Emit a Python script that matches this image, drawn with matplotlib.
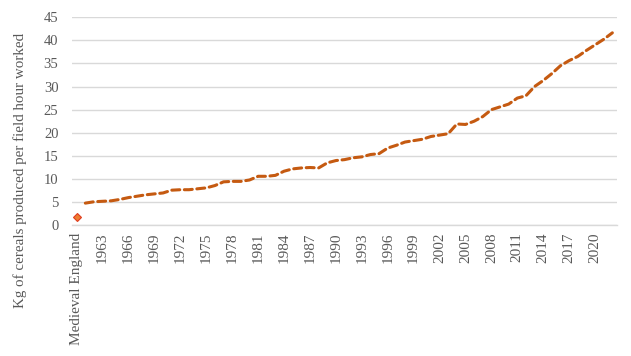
import numpy as np
import matplotlib.pyplot as plt

# categories: Medieval England + 1961..2022
years = list(range(1961, 2023))
categories = ['Medieval England'] + [str(y) for y in years]

medieval_value = 1.7

# kg of cereals per field hour worked
modern_values = [
    4.8, 5.1, 5.2, 5.3, 5.6, 6.0, 6.3, 6.6, 6.8, 7.0,      # 1961-1970
    7.6, 7.7, 7.7, 7.9, 8.1, 8.6, 9.4, 9.5, 9.5, 9.8,      # 1971-1980
    10.6, 10.6, 10.8, 11.7, 12.2, 12.4, 12.5, 12.4, 13.5, 14.0,  # 1981-1990
    14.2, 14.6, 14.8, 15.3, 15.5, 16.7, 17.3, 18.0, 18.3, 18.6,  # 1991-2000
    19.2, 19.5, 19.8, 21.9, 21.8, 22.5, 23.5, 25.0, 25.6, 26.2,  # 2001-2010
    27.5, 28.0, 30.0, 31.3, 32.8, 34.5, 35.6, 36.5, 37.8, 39.0,  # 2011-2020
    40.2, 41.6,                                                  # 2021-2022
]

line_color = '#C55A11'
grid_color = '#D9D9D9'
text_color = '#595959'

plt.rcParams['font.family'] = ['Liberation Serif', 'DejaVu Serif']

fig = plt.figure(figsize=(6.31, 3.56), dpi=100)
ax = fig.add_axes([0.1147, 0.367, 0.8626, 0.585])

x = np.arange(len(categories))
line_y = [np.nan] + modern_values
point_y = [medieval_value] + [np.nan] * len(modern_values)

ax.plot(x, line_y, color=line_color, linewidth=2.2, dashes=(2.6, 1.5),
        dash_capstyle='round', solid_capstyle='round')
ax.plot(x, point_y, linestyle='none', marker='D', markersize=4.2,
        markerfacecolor='#ED7D31', markeredgecolor='#E03C1E', markeredgewidth=0.8)

ax.set_xlim(-0.5, len(categories) - 0.5)
ax.set_ylim(0, 45)
ax.set_yticks(range(0, 50, 5))
ax.yaxis.grid(True, color=grid_color, linewidth=1)
ax.set_axisbelow(True)

tick_idx = list(range(0, len(categories), 3))
ax.set_xticks(tick_idx)
ax.set_xticklabels([categories[i] for i in tick_idx], rotation=90)

for s in ['top', 'right', 'left']:
    ax.spines[s].set_visible(False)
ax.spines['bottom'].set_color(grid_color)
ax.spines['bottom'].set_linewidth(1)

ax.tick_params(axis='both', length=0, labelcolor=text_color)
ax.tick_params(axis='y', pad=10, labelsize=10.5)
ax.tick_params(axis='x', pad=5, labelsize=11)

fig.text(0.032, 0.522, 'Kg of cereals produced per field hour worked',
         rotation=90, ha='center', va='center', fontsize=10.8, color=text_color)

fig.savefig('out.png', dpi=100)
